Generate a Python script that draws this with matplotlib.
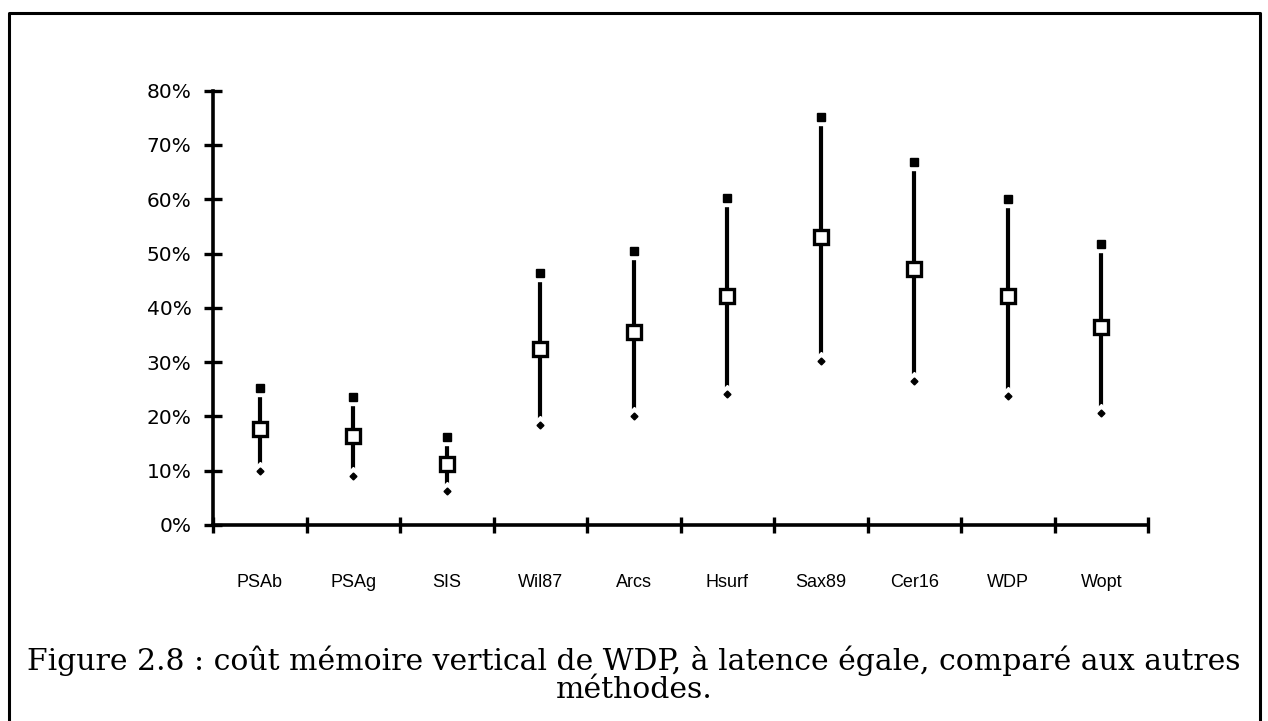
import matplotlib
matplotlib.use("Agg")
import matplotlib.pyplot as plt
from matplotlib.lines import Line2D
import numpy as np

# values (fraction of 1)
methods = ["PSAb", "PSAg", "SIS", "Wil87", "Arcs", "Hsurf", "Sax89", "Cer16", "WDP", "Wopt"]
high = [0.252, 0.236, 0.162, 0.465, 0.505, 0.603, 0.751, 0.668, 0.600, 0.517]
mean = [0.177, 0.164, 0.113, 0.325, 0.356, 0.421, 0.530, 0.471, 0.421, 0.365]
low = [0.099, 0.091, 0.063, 0.185, 0.201, 0.242, 0.302, 0.265, 0.238, 0.206]
yticks = [0.0, 0.1, 0.2, 0.3, 0.4, 0.5, 0.6, 0.7, 0.8]
caption = ("Figure 2.8 : coût mémoire vertical de WDP, à latence égale, comparé aux autres\n"
           "méthodes.")

W, H = 1268, 721
fig = plt.figure(figsize=(W / 100, H / 100), dpi=100)
fig.patch.set_facecolor("white")

ax = fig.add_axes([213 / W, 1 - 525 / H, (1148 - 213) / W, (525 - 90.7) / H])
x = np.arange(len(methods)) + 0.5

# hi-lo lines, with a small white gap under the end markers
ax.vlines(x, low, high, color="black", lw=3.0, zorder=2)
ax.plot(x, high, ls="none", marker="s", ms=11, mfc="white", mec="white", zorder=3)
ax.plot(x, high, ls="none", marker="s", ms=6, mfc="black", mec="black", zorder=4)
ax.plot(x, low, ls="none", marker="D", ms=9, mfc="white", mec="white", zorder=3)
ax.plot(x, low, ls="none", marker="D", ms=3.5, mfc="black", mec="black", zorder=4)
ax.plot(x, mean, ls="none", marker="s", ms=10.5, mfc="white", mec="black", mew=2.4, zorder=5)

ax.set_xlim(0, len(methods))
ax.set_ylim(0, 0.8)
ax.set_yticks(yticks)
ax.set_yticklabels(["%d%%" % round(v * 100) for v in yticks],
                   fontsize=14.5, family="DejaVu Sans")
ax.set_xticks(np.arange(len(methods) + 1))
ax.set_xticklabels([])
ax.set_xticks(x, minor=True)
ax.set_xticklabels(methods, minor=True, fontsize=13, family="Liberation Sans")
ax.tick_params(axis="x", which="minor", length=0, pad=35)
ax.tick_params(axis="x", which="major", direction="inout", length=12, width=2.4)
ax.tick_params(axis="y", direction="inout", length=13, width=2.4, pad=9)

for s in ["top", "right"]:
    ax.spines[s].set_visible(False)
for s in ["left", "bottom"]:
    ax.spines[s].set_linewidth(2.6)

# page frame around the figure (open at the bottom)
frame = Line2D([9 / W, 9 / W, 1260 / W, 1260 / W],
               [0, 1 - 13 / H, 1 - 13 / H, 0],
               transform=fig.transFigure, color="black", lw=2.2)
fig.add_artist(frame)

fig.text(0.5, 1 - 675 / H, caption, ha="center", va="center",
         fontsize=21.5, family="DejaVu Serif", linespacing=0.98)

fig.savefig("out.png", dpi=100)
